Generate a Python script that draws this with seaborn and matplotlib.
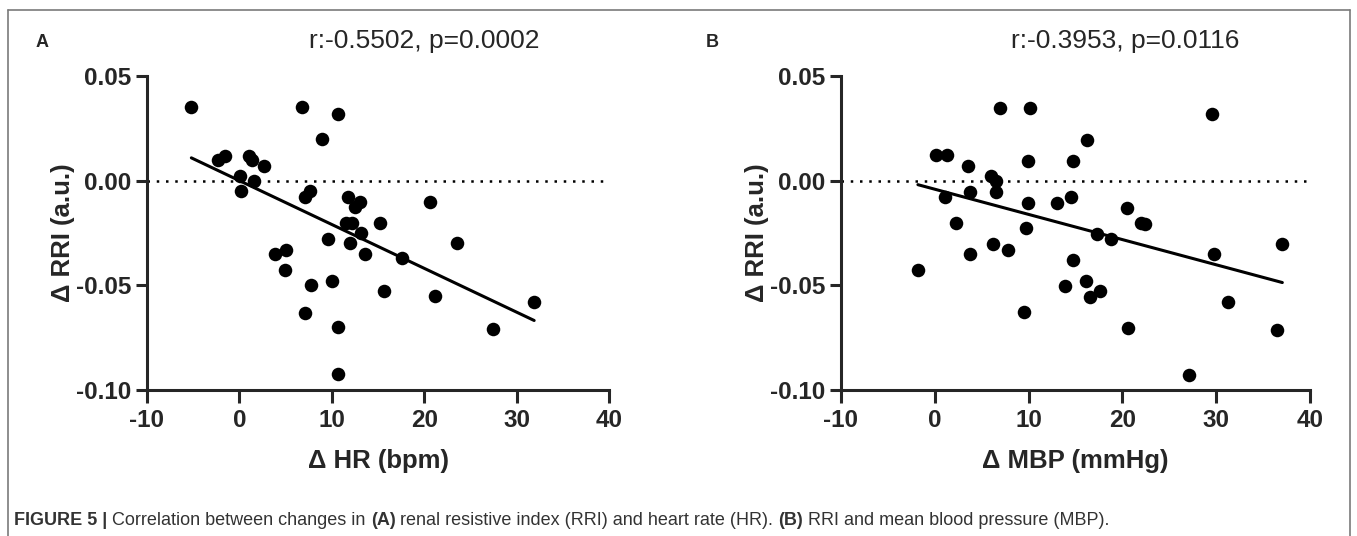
import numpy as np
import pandas as pd
import seaborn as sns
import matplotlib.pyplot as plt
from matplotlib.ticker import FormatStrFormatter

# panel A: change in heart rate vs change in RRI
hr_change = [-5.2, -2.3, -1.6, 1.0, 1.4, 2.7, 0.1, 1.6, 0.2, 6.8, 10.7, 8.9,
             7.1, 7.6, 11.7, 13.0, 12.5, 11.5, 12.2, 15.2, 13.2, 9.6, 12.0,
             13.6, 17.6, 3.9, 5.0, 4.9, 7.8, 10.0, 7.1, 10.7, 10.7, 15.7,
             20.6, 23.5, 21.2, 27.4, 31.9]
rri_a = [0.035, 0.010, 0.012, 0.012, 0.010, 0.007, 0.0024, 0.0, -0.005,
         0.035, 0.032, 0.020, -0.008, -0.005, -0.008, -0.010, -0.0127,
         -0.020, -0.020, -0.020, -0.025, -0.0277, -0.030, -0.035, -0.037,
         -0.035, -0.033, -0.0425, -0.050, -0.048, -0.063, -0.070, -0.0925,
         -0.0525, -0.010, -0.030, -0.055, -0.071, -0.058]

# panel B: change in mean blood pressure vs change in RRI
mbp_change = [0.1, 1.25, 3.5, 3.75, 1.1, 2.25, -1.8, 3.75, 6.25, 6.0, 6.5,
              6.5, 6.9, 7.85, 9.5, 9.75, 9.9, 9.9, 10.1, 13.0, 13.9, 14.5,
              14.75, 14.75, 16.15, 16.25, 16.5, 17.25, 17.6, 18.75, 20.5,
              20.65, 22.0, 22.4, 27.15, 29.5, 29.75, 31.3, 36.5, 37.05]
rri_b = [0.0123, 0.0123, 0.007, -0.0053, -0.008, -0.0204, -0.0427, -0.0352,
         -0.0303, 0.0023, 0.0, -0.0053, 0.0346, -0.0329, -0.0627, -0.0225,
         -0.0105, 0.0096, 0.0346, -0.0105, -0.0502, -0.008, 0.0096, -0.038,
         -0.048, 0.0195, -0.0555, -0.0255, -0.0528, -0.0277, -0.0129,
         -0.0703, -0.020, -0.0205, -0.0926, 0.0319, -0.0352, -0.0579,
         -0.0711, -0.0303]

panel_letters = ["A", "B"]
titles = ["r:-0.5502, p=0.0002", "r:-0.3953, p=0.0116"]
xlabels = ["\u0394 HR (bpm)", "\u0394 MBP (mmHg)"]
ylabel = "\u0394 RRI (a.u.)"
xticks = [-10, 0, 10, 20, 30, 40]
yticks = [-0.10, -0.05, 0.00, 0.05]

sns.set_style("ticks")
plt.rcParams["font.family"] = ["Liberation Sans", "DejaVu Sans"]
plt.rcParams["axes.unicode_minus"] = False

fig = plt.figure(figsize=(13.57, 5.36), dpi=100)
W, H = 1357, 536

# frame around the figure
for xs, ys in [((8, 1350), (10, 10)), ((8, 8), (10, 540)), ((1350, 1350), (10, 540))]:
    fig.add_artist(plt.Line2D([x / W for x in xs], [1 - y / H for y in ys],
                              color="#7a7a7a", lw=1.2, transform=fig.transFigure))

panels = [
    (hr_change, rri_a, 147, 462, 424, 36),
    (mbp_change, rri_b, 841, 469, 1125, 706),
]

for i, (xv, yv, left, width, tx, lx) in enumerate(panels):
    ax = fig.add_axes([left / W, 1 - 390 / H, width / W, 314 / H])
    df = pd.DataFrame({"x": xv, "y": yv})
    ax.axhline(0, color="black", lw=1.8, ls=(0, (1, 2.7)), zorder=0)
    sns.regplot(data=df, x="x", y="y", ax=ax, ci=None, color="black",
                scatter_kws=dict(s=95, linewidths=0, alpha=1, zorder=3),
                line_kws=dict(lw=2.2, zorder=2))
    ax.set_xlim(-10, 40)
    ax.set_ylim(-0.10, 0.05)
    ax.set_xticks(xticks)
    ax.set_yticks(yticks)
    ax.yaxis.set_major_formatter(FormatStrFormatter("%.2f"))
    for s in ["top", "right"]:
        ax.spines[s].set_visible(False)
    for s in ["left", "bottom"]:
        ax.spines[s].set_linewidth(2.2)
    ax.tick_params(direction="out", length=8, width=2.2, labelsize=17.5, pad=3)
    ax.tick_params(axis="x", length=9, pad=5)
    for lab in ax.get_xticklabels() + ax.get_yticklabels():
        lab.set_fontweight("bold")
    ax.set_xlabel(xlabels[i], fontsize=18.5, fontweight="bold", labelpad=12)
    ax.set_ylabel(ylabel, fontsize=18.5, fontweight="bold", labelpad=1)
    fig.text(tx / W, 1 - 41 / H, titles[i], ha="center", va="center", fontsize=19)
    fig.text(lx / W, 1 - 42 / H, panel_letters[i], ha="left", va="center",
             fontsize=13, fontweight="bold")

# caption with mixed bold runs, each run placed after the previous one
parts = [("FIGURE 5 | ", "bold"), ("Correlation between changes in ", "normal"),
         ("(A)", "bold"), (" renal resistive index (RRI) and heart rate (HR). ", "normal"),
         ("(B)", "bold"), (" RRI and mean blood pressure (MBP).", "normal")]
prev = None
for txt, wt in parts:
    kw = dict(fontsize=13, fontweight=wt, color="#333333", va="bottom", ha="left")
    if prev is None:
        prev = fig.text(14 / W, 1 - 529 / H, txt, **kw)
    else:
        prev = fig.add_artist(plt.Annotation(txt, xy=(1, 0), xycoords=prev, **kw))

fig.savefig("out.png", dpi=100)
